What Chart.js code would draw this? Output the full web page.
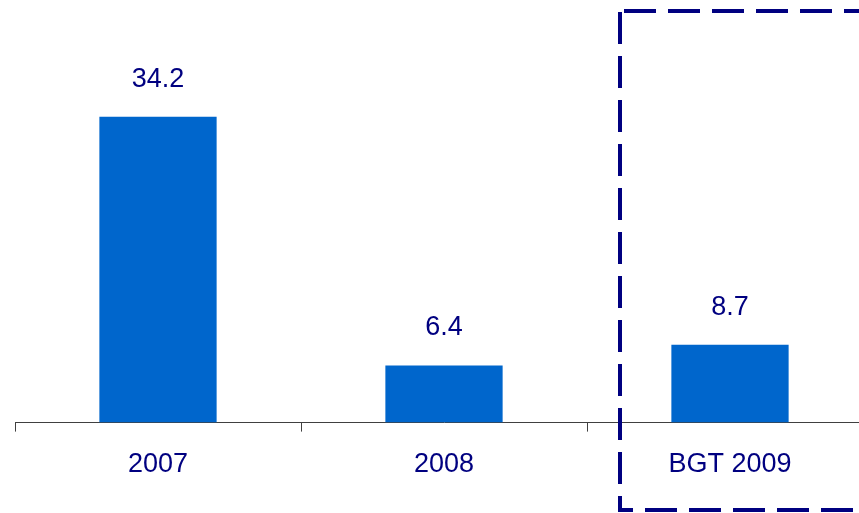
<!DOCTYPE html>
<html lang="en">
<head>
  <meta charset="UTF-8">
  <title>Bars</title>
  <script src="https://cdn.jsdelivr.net/npm/chart.js"></script>
  <style>
    html, body { margin: 0; padding: 0; background: #fff; overflow: hidden; }
    .wrap { width: 880px; height: 513px; }
  </style>
</head>
<body>
<div class="wrap"><canvas id="chart" width="880" height="513"></canvas></div>
<script>
  const categories = ['2007', '2008', 'BGT 2009'];
  const values = [34.2, 6.4, 8.7];
  const valueLabels = ['34.2', '6.4', '8.7'];

  const navy = '#000080';
  const barBlue = '#0066CC';

  // value labels above bars
  const labelPlugin = {
    id: 'valueLabels',
    afterDatasetsDraw(chart) {
      const ctx = chart.ctx;
      const meta = chart.getDatasetMeta(0);
      ctx.save();
      ctx.fillStyle = navy;
      ctx.font = '27px "Liberation Sans", Arial, sans-serif';
      ctx.textAlign = 'center';
      ctx.textBaseline = 'alphabetic';
      meta.data.forEach((bar, i) => {
        ctx.fillText(valueLabels[i], bar.x, bar.y - 30);
      });
      ctx.restore();
    }
  };

  // dashed box around the budget column
  const boxPlugin = {
    id: 'budgetBox',
    afterDraw(chart) {
      const ctx = chart.ctx;
      ctx.save();
      ctx.strokeStyle = navy;
      ctx.lineWidth = 4;
      ctx.setLineDash([32, 12]);
      // left edge
      ctx.beginPath();
      ctx.moveTo(620, 12);
      ctx.lineTo(620, 512);
      ctx.stroke();
      // top edge
      ctx.beginPath();
      ctx.moveTo(624, 11);
      ctx.lineTo(880, 11);
      ctx.stroke();
      // bottom edge
      ctx.lineDashOffset = 17;
      ctx.beginPath();
      ctx.moveTo(618, 510);
      ctx.lineTo(880, 510);
      ctx.stroke();
      ctx.restore();
    }
  };

  new Chart(document.getElementById('chart'), {
    type: 'bar',
    data: {
      labels: categories,
      datasets: [{
        data: values,
        backgroundColor: barBlue,
        barPercentage: 0.41,
        categoryPercentage: 1.0
      }]
    },
    options: {
      responsive: false,
      animation: false,
      layout: { padding: { top: 65, left: 15, right: 7, bottom: 15 } },
      plugins: { legend: { display: false }, tooltip: { enabled: false } },
      scales: {
        y: { display: false, min: 0, max: 40 },
        x: {
          grid: {
            display: true,
            drawOnChartArea: false,
            offset: true,
            tickLength: 9,
            color: '#404040'
          },
          border: { display: true, color: '#404040', width: 1 },
          ticks: {
            color: navy,
            padding: 17,
            font: { family: '"Liberation Sans", Arial, sans-serif', size: 27 }
          }
        }
      }
    },
    plugins: [labelPlugin, boxPlugin]
  });
</script>
</body>
</html>
